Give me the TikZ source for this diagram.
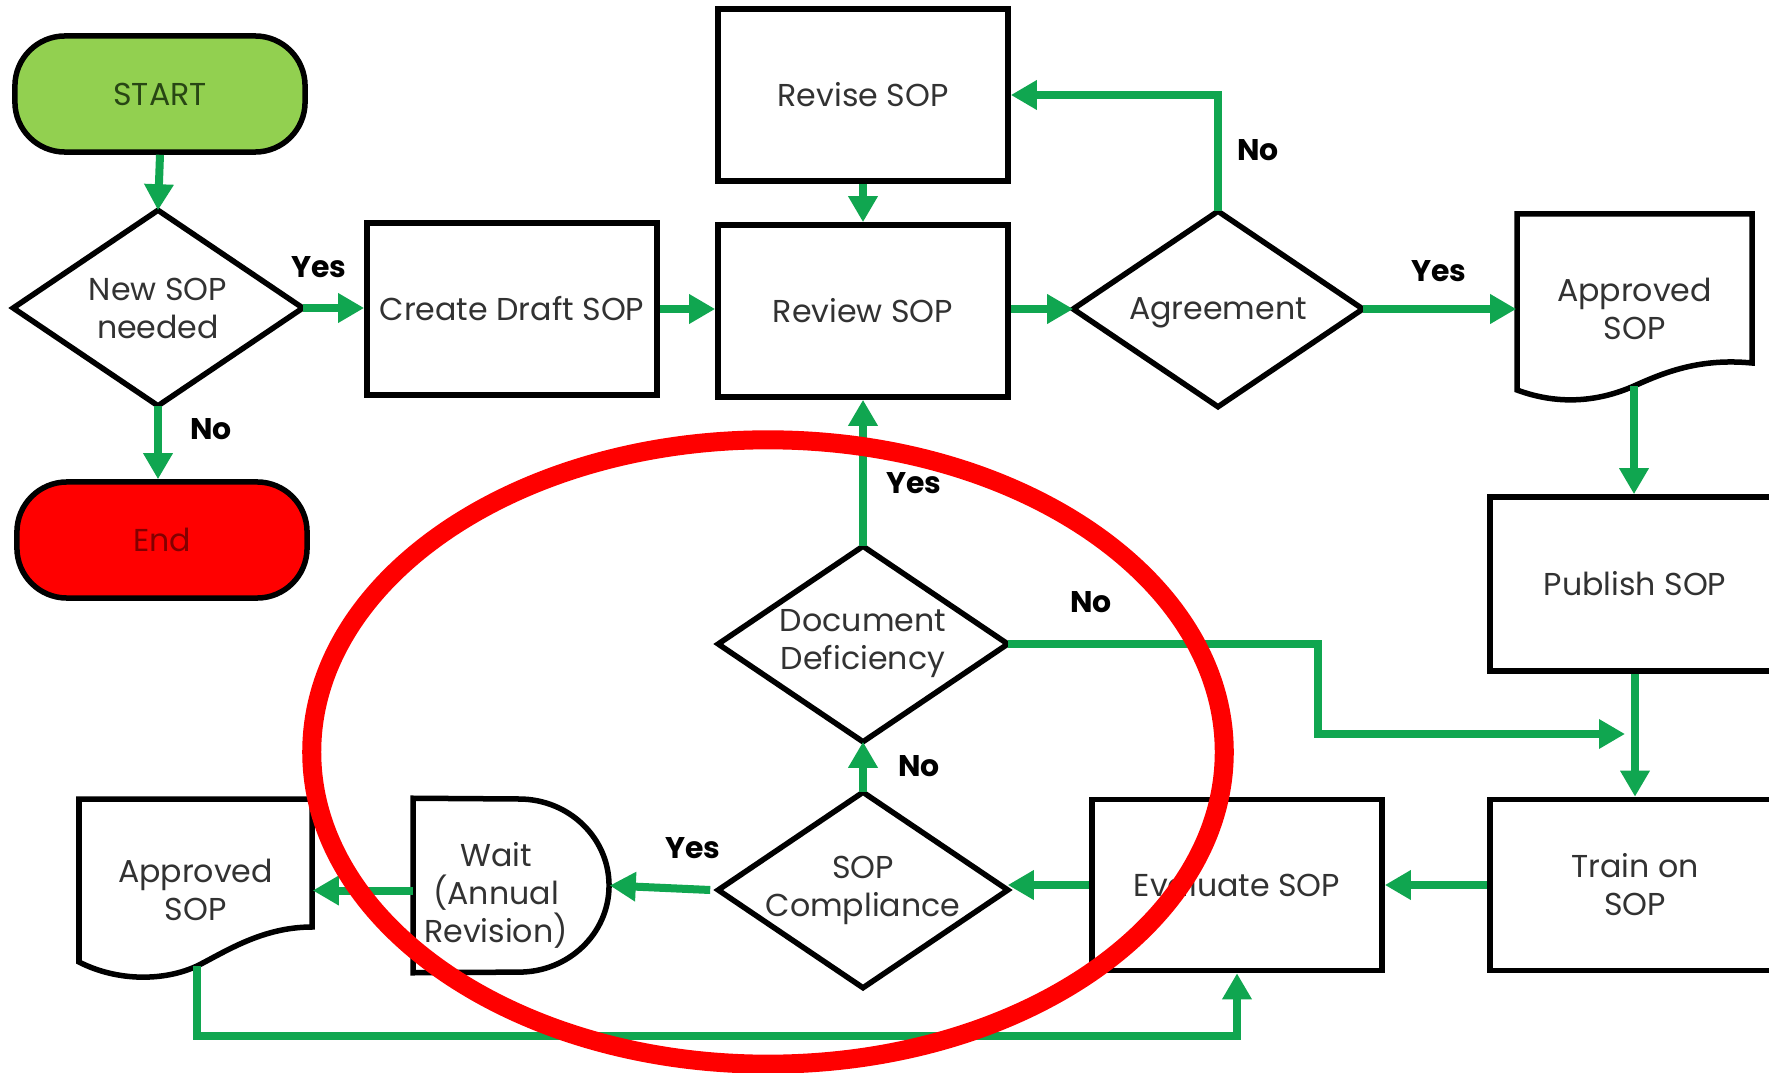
\documentclass[tikz,border=0pt]{standalone}
\usepackage{fontspec}
\setmainfont{Poppins}
\usetikzlibrary{shapes.geometric,arrows.meta,calc}
\definecolor{flowgreen}{RGB}{16,166,80}
\definecolor{startgreen}{RGB}{146,208,80}
\definecolor{startText}{RGB}{40,70,20}
\definecolor{endText}{RGB}{130,0,0}
\definecolor{txt}{RGB}{50,50,50}
\begin{document}
\begin{tikzpicture}[x=0.01cm,y=-0.01cm,
  txtfont/.style={font=\fontsize{9}{10.8}\selectfont, text=txt},
  box/.style={draw=black, line width=0.055cm, minimum width=2.9cm, minimum height=1.72cm, align=center, inner sep=0pt, txtfont},
  term/.style={draw=black, line width=0.055cm, rounded corners=0.5cm, minimum width=2.9cm, minimum height=1.16cm, inner sep=0pt, txtfont},
  ghost/.style={draw=none, align=center, inner sep=0pt, txtfont},
  dia/.style={ghost, minimum width=2.88cm, minimum height=1.94cm},
  shapeline/.style={draw=black, line width=0.055cm, line join=miter},
  flow/.style={draw=flowgreen, line width=0.08cm, -{Triangle[length=0.26cm,width=0.28cm]}},
  lab/.style={font=\bfseries\fontsize{8.5}{10}\selectfont, text=black, inner sep=0pt}
]
\useasboundingbox (0,0) rectangle (1769,1073);
\clip (0,0) rectangle (1769,1073);
\fill[white] (0,0) rectangle (1769,1073);

% terminals
\node[term, fill=startgreen, text=startText] (start) at (160,94) {START};
\node[term, fill=red, text=endText] (end) at (162,540) {End};

% decisions
\node[dia] (new) at (158,308) {New SOP\\needed};
\node[dia, text depth=0pt] (agr) at (1218,309) {Agreement};
\node[dia] (dd) at (863,644) {Document\\Deficiency};
\node[dia] (cmp) at (863,890) {SOP\\Compliance};
\foreach \d in {new,agr,dd,cmp}
  \draw[shapeline] (\d.north) -- (\d.east) -- (\d.south) -- (\d.west) -- cycle;

% process boxes
\node[box] (draft) at (512,309) {Create Draft SOP};
\node[box] (rev) at (863,95) {Revise SOP};
\node[box] (review) at (863,311) {Review SOP};
\node[box, minimum height=1.74cm] (pub) at (1635,584) {Publish SOP};
\node[box, minimum height=1.71cm] (train) at (1635,885) {Train on\\SOP};
\node[box, minimum height=1.71cm] (eva) at (1237,885) {Evaluate SOP};

% document shapes (approved SOP)
\node[ghost, minimum width=2.35cm, minimum height=1.86cm] (apt) at (1634.5,309) {Approved\\SOP};
\draw[shapeline] (1517,214) -- (1752,214) -- (1752,363)
  .. controls (1700,358) and (1665,372) .. (1634,386)
  .. controls (1600,401) and (1560,406) .. (1517,390) -- cycle;
\coordinate (aptw) at (1634,386);

\node[ghost, minimum width=2.33cm, minimum height=1.77cm] (apb) at (195.5,890) {Approved\\SOP};
\draw[shapeline] (79,799) -- (312,799) -- (312,927)
  .. controls (262,927) and (225,952) .. (197,966)
  .. controls (165,981) and (118,982) .. (79,962) -- cycle;
\coordinate (apbw) at (197,966);

% delay shape (wait)
\node[ghost, minimum width=1.95cm, minimum height=1.73cm] (wait) at (511.5,885.5) {};
\draw[shapeline] (wait.north west) -- (519,799) arc[start angle=90, end angle=-90, x radius=0.9cm, y radius=0.865cm] -- (wait.south west) -- cycle;
\node[ghost] (waittxt) at (496,895) {Wait\\(Annual\\Revision)};

% connectors
\draw[flow] (start.south) -- (new.north);
\draw[flow] (new.east) -- (draft.west |- new.east);
\draw[flow] (new.south) -- (end.north -| new.south);
\draw[flow] (draft.east) -- (review.west |- draft.east);
\draw[flow] (rev.south) -- (review.north);
\draw[flow] (review.east |- agr.west) -- (agr.west);
\draw[flow] (agr.north) |- (rev.east);
\draw[flow] (agr.east) -- (apt.west |- agr.east);
\draw[flow] (aptw) -- (pub.north -| aptw);
\draw[flow] (pub.south) -- (train.north);
\coordinate (ddend) at (1625,734);
\draw[flow] (dd.east) -- (1318,644) -- (1318,734) -- (ddend);
\draw[flow] (dd.north) -- (review.south);
\draw[flow] (cmp.north) -- (dd.south);
\draw[flow] (train.west) -- (eva.east);
\draw[flow] (eva.west) -- (cmp.east |- eva.west);
\draw[flow] ([xshift=-0.08cm]cmp.west) -- (wait.east);
\draw[flow] ([yshift=-0.05cm]wait.west) -- ([yshift=-0.05cm]apb.east |- wait.west);
\draw[flow] (apbw) -- (197,1036) -| (eva.south);

% labels
\node[lab] (l1) at (319,267) {Yes};
\node[lab] (l2) at (211,429) {No};
\node[lab] (l3) at (1258,150) {No};
\node[lab] (l4) at (1439,271) {Yes};
\node[lab] (l5) at (914,483) {Yes};
\node[lab] (l6) at (1091,602) {No};
\node[lab] (l7) at (919,766) {No};
\node[lab] (l8) at (693,848) {Yes};

% red highlight ellipse
\node[draw=none, minimum size=0pt, inner sep=0pt] (ring) at (768,752) {};
\draw[red, line width=0.19cm] (ring) ellipse [x radius=4.56cm, y radius=3.12cm];
\end{tikzpicture}
\end{document}
